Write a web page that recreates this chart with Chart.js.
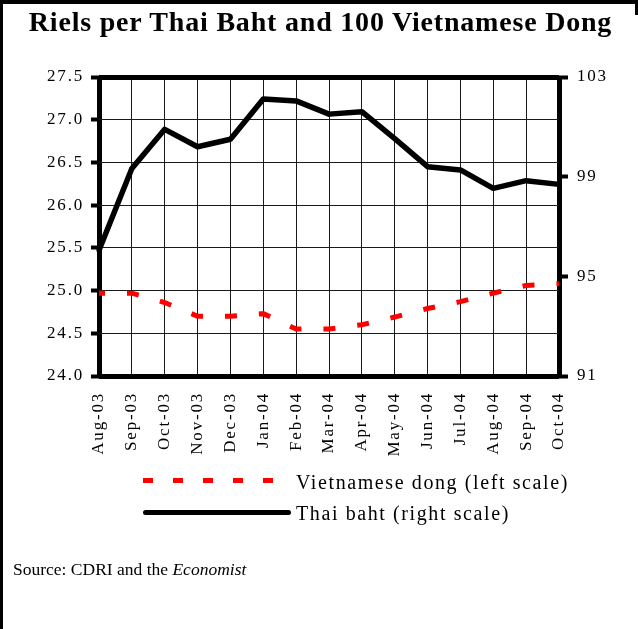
<!DOCTYPE html>
<html>
<head>
<meta charset="utf-8">
<script src="https://cdn.jsdelivr.net/npm/chart.js@4"></script>
<style>
  html, body { margin: 0; padding: 0; background: #fff; }
  #wrap { position: relative; width: 638px; height: 629px; overflow: hidden; background: #fff;
          font-family: "Liberation Serif", "Times New Roman", serif; color: #000; }
  #c { position: absolute; left: 0; top: 0; }
  .frame-l { position: absolute; left: 0; top: 0; width: 3px; height: 629px; background: #000; }
  .frame-t { position: absolute; left: 0; top: 0; width: 638px; height: 4px; background: #000; }
  .frame-r { position: absolute; left: 635px; top: 0; width: 3px; height: 15px; background: #000; }
  #title { position: absolute; left: 0; top: 8px; width: 641px; text-align: center;
           font-weight: bold; font-size: 28px; line-height: 28px; letter-spacing: 0.8px; white-space: nowrap; }
  .leg-text { position: absolute; left: 296px; font-size: 20px; line-height: 20px; letter-spacing: 1.6px; white-space: nowrap; }
  #leg1 { top: 472px; }
  #leg2 { top: 503px; }
  #dash { position: absolute; left: 143px; top: 478px; width: 130px; height: 5px;
          background: repeating-linear-gradient(to right, #ff0000 0 10px, transparent 10px 30px); }
  #solid { position: absolute; left: 143px; top: 510px; width: 148px; height: 5px; background: #000; border-radius: 2.5px; }
  #source { position: absolute; left: 13px; top: 561px; font-size: 17.5px; line-height: 17.5px; white-space: nowrap; }
</style>
</head>
<body>
<div id="wrap">
  <canvas id="c" width="638" height="629"></canvas>
  <div class="frame-l"></div>
  <div class="frame-t"></div>
  <div class="frame-r"></div>
  <div id="title">Riels per Thai Baht and 100 Vietnamese Dong</div>
  <div id="dash"></div>
  <div class="leg-text" id="leg1">Vietnamese dong (left scale)</div>
  <div id="solid"></div>
  <div class="leg-text" id="leg2">Thai baht (right scale)</div>
  <div id="source">Source: CDRI and the <i>Economist</i></div>
</div>
<script>
// ---- data ----
const categories = ["Aug-03","Sep-03","Oct-03","Nov-03","Dec-03","Jan-04","Feb-04","Mar-04","Apr-04","May-04","Jun-04","Jul-04","Aug-04","Sep-04","Oct-04"];
const vietnameseDong = [24.97,24.97,24.86,24.70,24.70,24.73,24.55,24.55,24.60,24.69,24.79,24.87,24.97,25.06,25.08];
const thaiBaht = [96.05,99.33,100.90,100.20,100.50,102.12,102.04,101.51,101.61,100.53,99.40,99.27,98.53,98.84,98.69];
const leftTicks = { min: 24, max: 27.5, step: 0.5 };
const rightTicks = { min: 91, max: 103, step: 4 };
const seriesNames = ["Vietnamese dong (left scale)", "Thai baht (right scale)"];

const LS = '1.8px';
const spacingPlugin = {
  id: 'spacing',
  beforeUpdate(chart) { chart.ctx.letterSpacing = LS; },
  beforeLayout(chart) { chart.ctx.letterSpacing = LS; },
  beforeDraw(chart) { chart.ctx.letterSpacing = LS; }
};

const tickFont = { family: "'Liberation Serif', 'Times New Roman', serif", size: 17 };
const isEdgeX = (ctx) => ctx.index === 0 || ctx.index === categories.length - 1;
const isEdgeY = (ctx) => ctx.tick && (ctx.tick.value === leftTicks.min || ctx.tick.value === leftTicks.max);

new Chart(document.getElementById('c'), {
  type: 'line',
  data: {
    labels: categories,
    datasets: [
      {
        label: seriesNames[0],
        data: vietnameseDong,
        yAxisID: 'yL',
        borderColor: '#ff0000',
        borderWidth: 5,
        borderDash: [12, 22],
        borderDashOffset: 6,
        borderCapStyle: 'butt',
        pointRadius: 0,
        tension: 0,
        fill: false
      },
      {
        label: seriesNames[1],
        data: thaiBaht,
        yAxisID: 'yR',
        borderColor: '#000000',
        borderWidth: 5.5,
        borderCapStyle: 'round',
        borderJoinStyle: 'round',
        pointRadius: 0,
        tension: 0,
        fill: false
      }
    ]
  },
  options: {
    responsive: false,
    animation: false,
    events: [],
    layout: { padding: { top: 77, left: 0, right: 0, bottom: 0 } },
    plugins: { legend: { display: false }, title: { display: false }, tooltip: { enabled: false } },
    scales: {
      x: {
        type: 'category',
        position: 'bottom',
        offset: false,
        border: { display: false },
        grid: {
          color: (ctx) => isEdgeX(ctx) ? '#000' : '#1a1a1a',
          lineWidth: (ctx) => isEdgeX(ctx) ? 5 : 1,
          drawTicks: false
        },
        ticks: {
          autoSkip: false,
          minRotation: 90,
          maxRotation: 90,
          padding: 16,
          color: '#000',
          font: tickFont
        },
        afterFit(scale) { scale.height = 253; }
      },
      yL: {
        type: 'linear',
        position: 'left',
        min: leftTicks.min,
        max: leftTicks.max,
        border: { display: false },
        grid: {
          color: (ctx) => isEdgeY(ctx) ? '#000' : '#1a1a1a',
          lineWidth: (ctx) => isEdgeY(ctx) ? 5 : 1,
          drawTicks: true,
          tickLength: 8,
          tickWidth: 4,
          tickColor: '#000'
        },
        ticks: {
          stepSize: leftTicks.step,
          padding: 7,
          color: '#000',
          font: tickFont,
          callback: (v) => Number(v).toFixed(1)
        },
        afterFit(scale) { scale.width = 99; }
      },
      yR: {
        type: 'linear',
        position: 'right',
        min: rightTicks.min,
        max: rightTicks.max,
        border: { display: false },
        grid: {
          drawOnChartArea: false,
          drawTicks: true,
          tickLength: 9,
          tickWidth: 4,
          tickColor: '#000'
        },
        ticks: {
          stepSize: rightTicks.step,
          padding: 9,
          color: '#000',
          font: tickFont,
          callback: (v) => String(v)
        },
        afterFit(scale) { scale.width = 79; }
      }
    }
  },
  plugins: [spacingPlugin]
});
</script>
</body>
</html>
